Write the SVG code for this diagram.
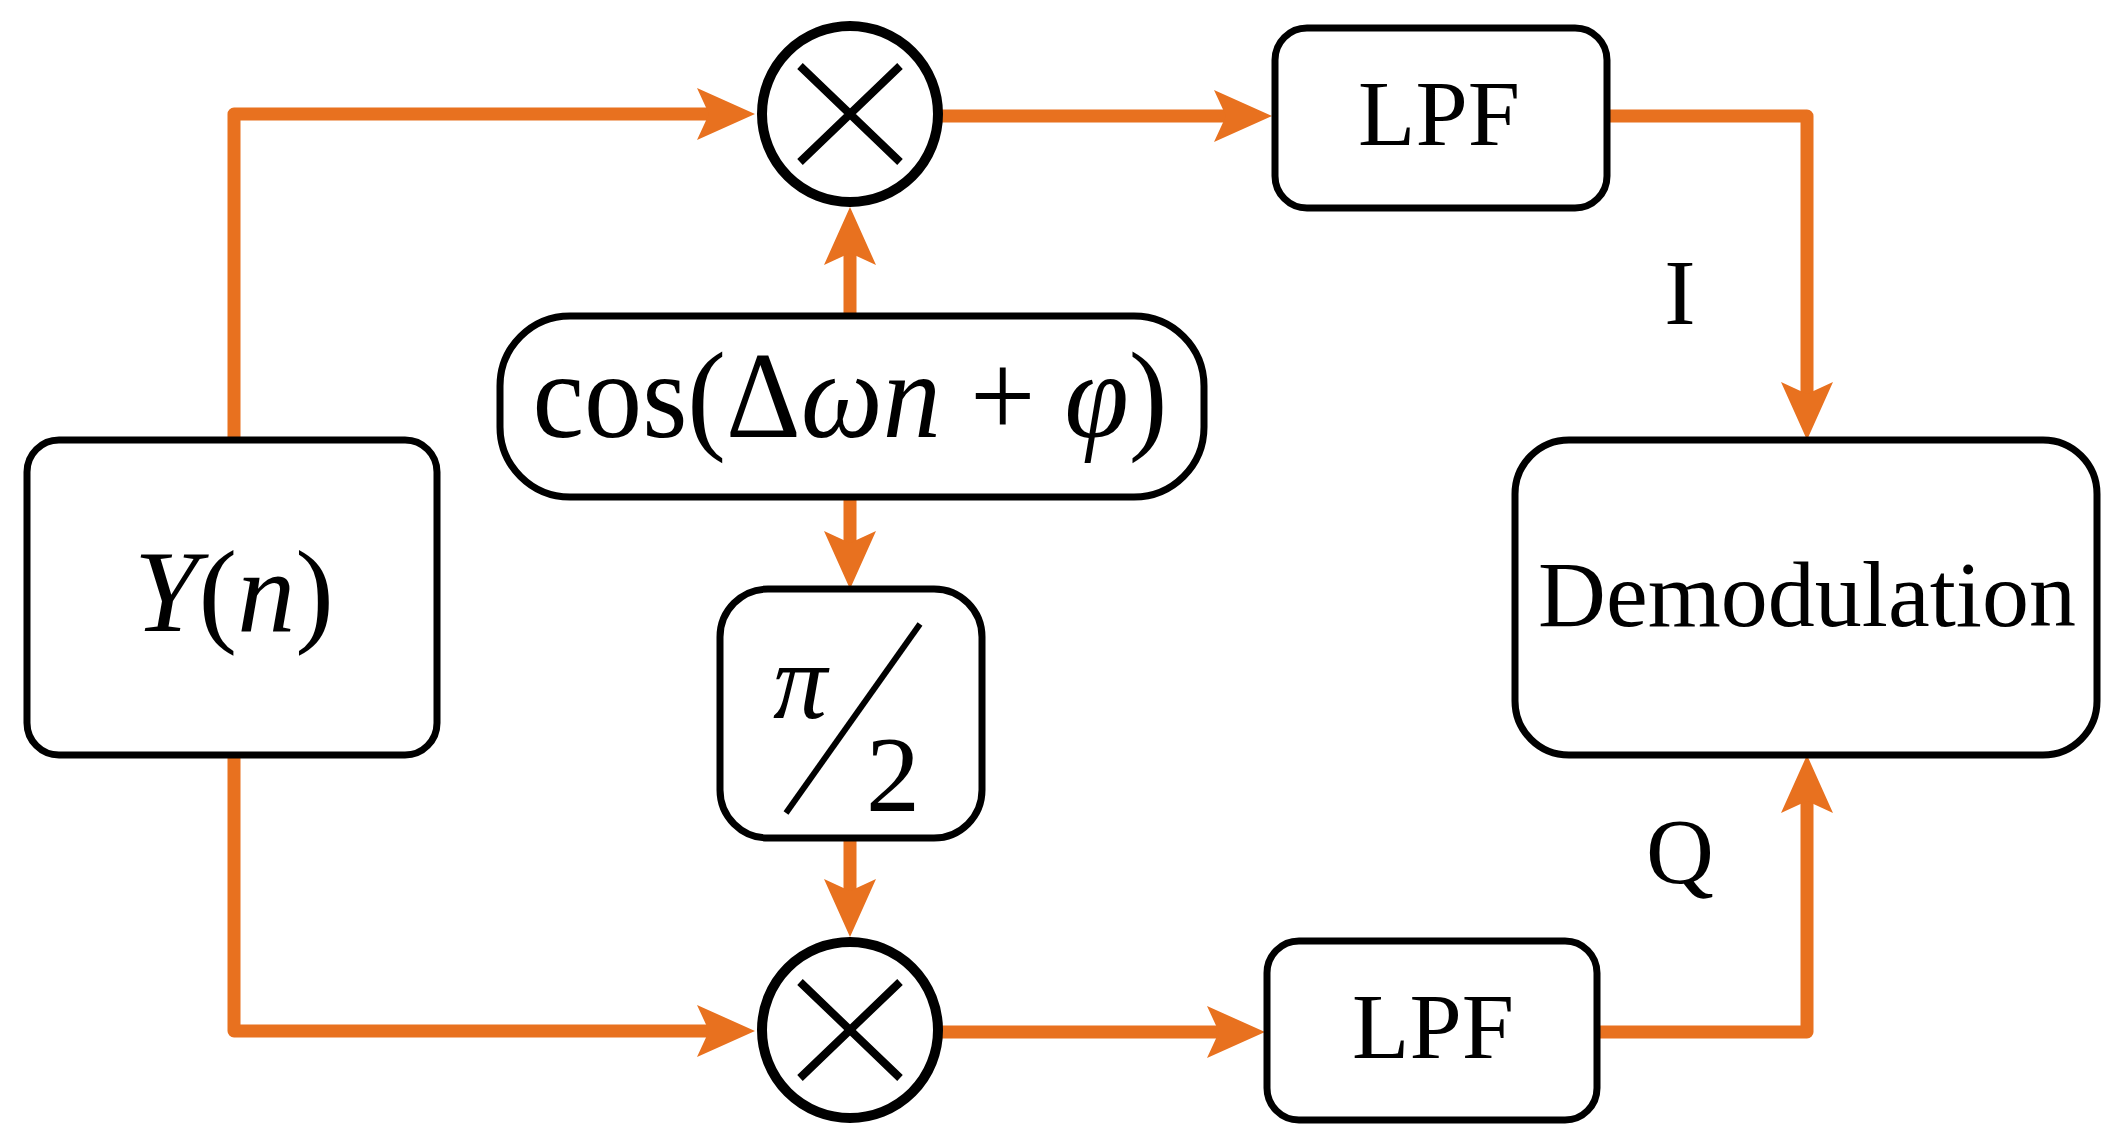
<svg xmlns="http://www.w3.org/2000/svg" width="2123" height="1144" viewBox="0 0 2123 1144">
<style>
.box{fill:#fff;stroke:#000;stroke-width:7}
.c{fill:#fff;stroke:#000;stroke-width:10}
.x{stroke:#000;stroke-width:8}
.w{fill:none;stroke:#E8711F;stroke-width:13;stroke-linecap:round;stroke-linejoin:round}
.t{font-family:"Liberation Serif",serif;fill:#000;text-anchor:middle}
</style>
<defs>
<marker id="a" markerUnits="userSpaceOnUse" markerWidth="58" markerHeight="52" refX="12" refY="26" orient="auto">
<path d="M0,0 L58,26 L0,52 L12,26 Z" fill="#E8711F"/>
</marker>
</defs>
<g id="connectors">
<path class="w" d="M234,442 V114 H709" marker-end="url(#a)"/>
<path class="w" d="M234,752 V1031 H709" marker-end="url(#a)"/>
<path class="w" d="M850,316 V253" marker-end="url(#a)"/>
<path class="w" d="M850,497 V543" marker-end="url(#a)"/>
<path class="w" d="M850,838 V891" marker-end="url(#a)"/>
<path class="w" d="M938,116 H1226" marker-end="url(#a)"/>
<path class="w" d="M938,1032 H1219" marker-end="url(#a)"/>
<path class="w" d="M1601,116 H1807 V394" marker-end="url(#a)"/>
<path class="w" d="M1597,1032 H1807 V801" marker-end="url(#a)"/>
</g>
<g id="yn"><rect class="box" x="27" y="440" width="410" height="315" rx="32"/>
<text class="t" x="234" y="631" font-size="116" font-style="italic">Y<tspan font-style="normal">(</tspan>n<tspan font-style="normal">)</tspan></text></g>
<g id="mult1"><circle class="c" cx="850" cy="114" r="88"/><path class="x" d="M800,66 L900,162 M900,66 L800,162"/></g>
<g id="mult2"><circle class="c" cx="850" cy="1030" r="88"/><path class="x" d="M800,982 L900,1078 M900,982 L800,1078"/></g>
<g id="cos"><rect class="box" x="500" y="316" width="704" height="181" rx="70"/>
<text class="t" x="850" y="437" font-size="122" textLength="635" lengthAdjust="spacingAndGlyphs">cos(Δ<tspan font-style="italic">ωn</tspan> + <tspan font-style="italic">φ</tspan>)</text></g>
<g id="pi2"><rect class="box" x="720" y="589" width="262" height="249" rx="48"/>
<text class="t" x="800" y="718" font-size="108" font-style="italic">π</text>
<line x1="920" y1="624" x2="786" y2="813" stroke="#000" stroke-width="6"/>
<text class="t" x="893" y="811" font-size="108">2</text></g>
<g id="lpf1"><rect class="box" x="1275" y="28" width="332" height="180" rx="32"/><text class="t" x="1439" y="145" font-size="94">LPF</text></g>
<g id="lpf2"><rect class="box" x="1267" y="941" width="330" height="179" rx="32"/><text class="t" x="1433" y="1058" font-size="94">LPF</text></g>
<g id="demod"><rect class="box" x="1515" y="440" width="582" height="315" rx="54"/><text class="t" x="1807" y="626" font-size="94">Demodulation</text></g>
<text class="t" x="1680" y="324" font-size="94">I</text>
<text class="t" x="1680" y="883" font-size="94">Q</text>
</svg>
